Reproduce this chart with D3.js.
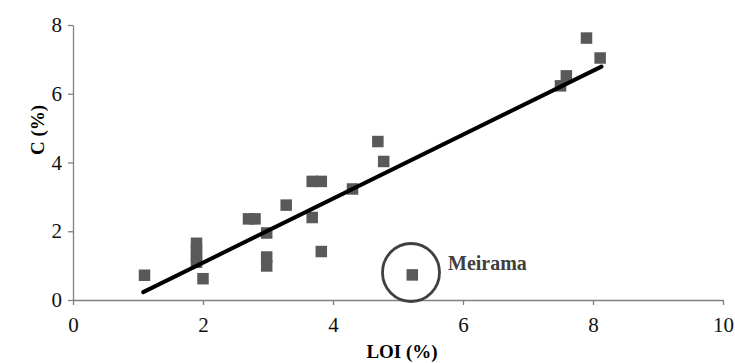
<!DOCTYPE html>
<html><head><meta charset="utf-8">
<script src="https://cdn.jsdelivr.net/npm/d3@7"></script>
<style>body{margin:0;background:#fff} svg text{font-family:"Liberation Serif","Times New Roman",serif}</style>
</head><body>
<svg id="c" width="735" height="363"></svg>
<script>
const loi = [1.1, 1.9, 1.9, 1.9, 1.9, 2.0, 2.7, 2.8, 2.98, 2.98, 2.98, 3.28, 3.68, 3.82, 3.68, 3.82, 4.3, 4.69, 4.78, 5.22, 7.5, 7.59, 7.9, 8.11];
const carbon = [0.72, 1.65, 1.45, 1.28, 1.1, 0.62, 2.36, 2.36, 1.95, 1.25, 0.99, 2.76, 3.45, 3.45, 2.4, 1.41, 3.23, 4.61, 4.03, 0.73, 6.23, 6.52, 7.62, 7.04];
const fitX = [1.08, 8.13];
const fitY = [0.23, 6.79];
const xTicks = [0, 2, 4, 6, 8, 10];
const yTicks = [0, 2, 4, 6, 8];
const outlier = {name: "Meirama", x: 5.2, y: 0.8};

const FONT = '"Liberation Serif","Times New Roman",serif';
const svg = d3.select("#c");
const x = d3.scaleLinear().domain([0, 10]).range([73, 723]);
const y = d3.scaleLinear().domain([0, 8]).range([300, 25]);

const xAxis = svg.append("g").attr("transform", "translate(0,300)")
  .call(d3.axisBottom(x).tickValues(xTicks).tickSize(5).tickSizeOuter(0).tickPadding(12));
const yAxis = svg.append("g").attr("transform", "translate(73,0)")
  .call(d3.axisLeft(y).tickValues(yTicks).tickSize(5).tickSizeOuter(0).tickPadding(6));
[xAxis, yAxis].forEach(a => {
  a.attr("font-family", FONT).attr("font-size", 21);
  a.selectAll("path,line").attr("stroke", "#808080").attr("stroke-width", 1.3);
  a.selectAll("text").attr("fill", "#111");
});

svg.append("text").attr("x", 402).attr("y", 358).attr("text-anchor", "middle")
  .attr("font-family", FONT).attr("font-weight", "bold").attr("font-size", 19)
  .text("LOI (%)");
svg.append("text").attr("transform", "translate(44,130) rotate(-90)").attr("text-anchor", "middle")
  .attr("font-family", FONT).attr("font-weight", "bold").attr("font-size", 19)
  .text("C (%)");

const s = 11.5;
svg.append("g").selectAll("rect").data(loi).join("rect")
  .attr("x", (d) => x(d) - s / 2).attr("y", (d, i) => y(carbon[i]) - s / 2)
  .attr("width", s).attr("height", s).attr("fill", "#595959");

svg.append("line").attr("x1", x(fitX[0])).attr("y1", y(fitY[0])).attr("x2", x(fitX[1])).attr("y2", y(fitY[1]))
  .attr("stroke", "#000").attr("stroke-width", 4).attr("stroke-linecap", "round");

svg.append("ellipse").attr("cx", x(outlier.x)).attr("cy", y(outlier.y)).attr("rx", 28.5).attr("ry", 29)
  .attr("fill", "none").attr("stroke", "#404040").attr("stroke-width", 2.8);
svg.append("text").attr("x", x(outlier.x) + 37).attr("y", 270)
  .attr("font-family", FONT).attr("font-weight", "bold").attr("font-size", 20)
  .attr("fill", "#404040").text(outlier.name);
</script>
</body></html>
